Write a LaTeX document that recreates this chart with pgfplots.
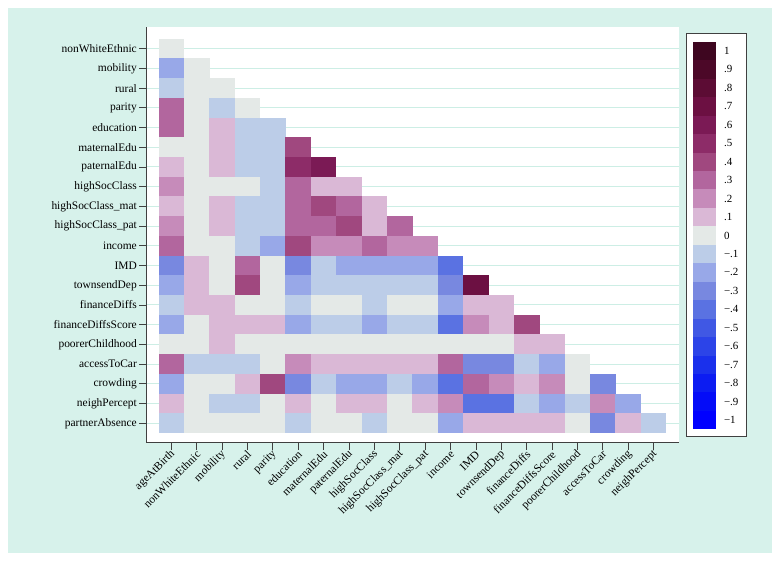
\documentclass[border=0pt]{standalone}
\usepackage{fontspec}
\setmainfont{Liberation Serif}
\usepackage{pgfplots}
\usepackage{pgfplotstable}
\pgfplotsset{compat=1.18}
\definecolor{bgteal}{HTML}{D7F2EB}
\definecolor{gridcol}{HTML}{CDEEE5}
\definecolor{axiscol}{HTML}{404040}
\pgfdeclareplotmark{cell}{\pgfpathrectangle{\pgfpoint{-12.8bp}{-9.95bp}}{\pgfpoint{25.6bp}{19.9bp}}\pgfusepathqfill}
\pgfdeclareplotmark{cbcell}{\pgfpathrectangle{\pgfpoint{-11.5bp}{-9.35bp}}{\pgfpoint{23bp}{18.7bp}}\pgfusepathqfill}
\pgfplotsset{colormap={corr}{
 rgb255=(0,0,255) rgb255=(4,12,248) rgb255=(12,28,242) rgb255=(26,48,236) rgb255=(44,68,232)
 rgb255=(64,88,228) rgb255=(90,114,226) rgb255=(120,136,224) rgb255=(152,168,232) rgb255=(188,205,232)
 rgb255=(228,233,231)
 rgb255=(218,184,214) rgb255=(198,139,186) rgb255=(178,102,158) rgb255=(160,72,127) rgb255=(141,44,104)
 rgb255=(123,26,85) rgb255=(108,16,66) rgb255=(92,12,52) rgb255=(76,8,40) rgb255=(62,6,32)}}
% col = column index (ageAtBirth=0), row = row index from top (nonWhiteEthnic=0), r = correlation
\pgfplotstableread{
col row r
0 0 0
0 1 -0.2
1 1 0
0 2 -0.1
1 2 0
2 2 0
0 3 0.3
1 3 0
2 3 -0.1
3 3 0
0 4 0.3
1 4 0
2 4 0.1
3 4 -0.1
4 4 -0.1
0 5 0
1 5 0
2 5 0.1
3 5 -0.1
4 5 -0.1
5 5 0.4
0 6 0.1
1 6 0
2 6 0.1
3 6 -0.1
4 6 -0.1
5 6 0.5
6 6 0.6
0 7 0.2
1 7 0
2 7 0
3 7 0
4 7 -0.1
5 7 0.3
6 7 0.1
7 7 0.1
0 8 0.1
1 8 0
2 8 0.1
3 8 -0.1
4 8 -0.1
5 8 0.3
6 8 0.4
7 8 0.3
8 8 0.1
0 9 0.2
1 9 0
2 9 0.1
3 9 -0.1
4 9 -0.1
5 9 0.3
6 9 0.3
7 9 0.4
8 9 0.1
9 9 0.3
0 10 0.3
1 10 0
2 10 0
3 10 -0.1
4 10 -0.2
5 10 0.4
6 10 0.2
7 10 0.2
8 10 0.3
9 10 0.2
10 10 0.2
0 11 -0.3
1 11 0.1
2 11 0
3 11 0.3
4 11 0
5 11 -0.3
6 11 -0.1
7 11 -0.2
8 11 -0.2
9 11 -0.2
10 11 -0.2
11 11 -0.4
0 12 -0.2
1 12 0.1
2 12 0
3 12 0.4
4 12 0
5 12 -0.2
6 12 -0.1
7 12 -0.1
8 12 -0.1
9 12 -0.1
10 12 -0.1
11 12 -0.3
12 12 0.7
0 13 -0.1
1 13 0.1
2 13 0.1
3 13 0
4 13 0
5 13 -0.1
6 13 0
7 13 0
8 13 -0.1
9 13 0
10 13 0
11 13 -0.2
12 13 0.1
13 13 0.1
0 14 -0.2
1 14 0
2 14 0.1
3 14 0.1
4 14 0.1
5 14 -0.2
6 14 -0.1
7 14 -0.1
8 14 -0.2
9 14 -0.1
10 14 -0.1
11 14 -0.4
12 14 0.2
13 14 0.1
14 14 0.4
0 15 0
1 15 0
2 15 0.1
3 15 0
4 15 0
5 15 0
6 15 0
7 15 0
8 15 0
9 15 0
10 15 0
11 15 0
12 15 0
13 15 0
14 15 0.1
15 15 0.1
0 16 0.3
1 16 -0.1
2 16 -0.1
3 16 -0.1
4 16 0
5 16 0.2
6 16 0.1
7 16 0.1
8 16 0.1
9 16 0.1
10 16 0.1
11 16 0.3
12 16 -0.3
13 16 -0.3
14 16 -0.1
15 16 -0.2
16 16 0
0 17 -0.2
1 17 0
2 17 0
3 17 0.1
4 17 0.4
5 17 -0.3
6 17 -0.1
7 17 -0.2
8 17 -0.2
9 17 -0.1
10 17 -0.2
11 17 -0.4
12 17 0.3
13 17 0.2
14 17 0.1
15 17 0.2
16 17 0
17 17 -0.3
0 18 0.1
1 18 0
2 18 -0.1
3 18 -0.1
4 18 0
5 18 0.1
6 18 0
7 18 0.1
8 18 0.1
9 18 0
10 18 0.1
11 18 0.2
12 18 -0.4
13 18 -0.4
14 18 -0.1
15 18 -0.2
16 18 -0.1
17 18 0.2
18 18 -0.2
0 19 -0.1
1 19 0
2 19 0
3 19 0
4 19 0
5 19 -0.1
6 19 0
7 19 0
8 19 -0.1
9 19 0
10 19 0
11 19 -0.2
12 19 0.1
13 19 0.1
14 19 0.1
15 19 0.1
16 19 0
17 19 -0.3
18 19 0.1
19 19 -0.1
}\corrdata
\pgfplotstableread{
k r
-10 -1
-9 -0.9
-8 -0.8
-7 -0.7
-6 -0.6
-5 -0.5
-4 -0.4
-3 -0.3
-2 -0.2
-1 -0.1
0 0
1 0.1
2 0.2
3 0.3
4 0.4
5 0.5
6 0.6
7 0.7
8 0.8
9 0.9
10 1
}\cbdata
\begin{document}
\begin{tikzpicture}[x=1bp,y=1bp]
\useasboundingbox (0,0) rectangle (780,562);
\fill[white] (0,0) rectangle (780,562);
\fill[bgteal] (8,8.7) rectangle (772,554);
\fill[white] (146,119) rectangle (679,535);
\filldraw[fill=white, draw=axiscol, line width=0.8bp] (686,126) rectangle (746,529);
\begin{axis}[
  at={(146bp,119bp)}, anchor=south west,
  scale only axis, width=533bp, height=416bp,
  xmin=-1, xmax=20, ymin=-1, ymax=20.1,
  axis x line*=bottom, axis y line*=left,
  axis line style={draw=axiscol, line width=1bp},
  xtick={0,...,19}, ytick={0,...,19},
  xticklabels={ageAtBirth,nonWhiteEthnic,mobility,rural,parity,education,maternalEdu,paternalEdu,highSocClass,highSocClass\_mat,highSocClass\_pat,income,IMD,townsendDep,financeDiffs,financeDiffsScore,poorerChildhood,accessToCar,crowding,neighPercept},
  yticklabels={partnerAbsence,neighPercept,crowding,accessToCar,poorerChildhood,financeDiffsScore,financeDiffs,townsendDep,IMD,income,highSocClass\_pat,highSocClass\_mat,highSocClass,paternalEdu,maternalEdu,education,parity,rural,mobility,nonWhiteEthnic},
  tick align=outside, major tick length=7bp,
  tick style={draw=axiscol, line width=0.9bp},
  ymajorgrids, grid style={draw=gridcol, line width=1bp},
  tick label style={font=\fontsize{11.5}{13}\selectfont, text=black},
  xticklabel style={rotate=45, anchor=east, inner sep=1.5pt, yshift=-3bp, xshift=1bp},
  yticklabel style={inner sep=2pt},
  colormap name=corr, point meta min=-1, point meta max=1,
  clip=false,
]
\addplot[scatter, only marks, mark=cell, point meta=\thisrow{r},
  scatter/use mapped color={draw=none, fill=mapped color}]
  table[x=col, y expr=19-\thisrow{row}] {\corrdata};
\end{axis}
\begin{axis}[
  at={(693.3bp,132.7bp)}, anchor=south west,
  scale only axis, width=23bp, height=387.6bp,
  xmin=-0.5, xmax=0.5, ymin=-10.5, ymax=10.5,
  axis line style={draw=none},
  xtick=\empty,
  ytick={-10,...,10},
  yticklabels={−1,−.9,−.8,−.7,−.6,−.5,−.4,−.3,−.2,−.1,0,.1,.2,.3,.4,.5,.6,.7,.8,.9,1},
  yticklabel pos=right,
  ytick style={draw=none},
  yticklabel style={anchor=west, inner sep=0pt, xshift=7.5bp, font=\fontsize{11}{12}\selectfont},
  colormap name=corr, point meta min=-1, point meta max=1,
  clip=false,
]
\addplot[scatter, only marks, mark=cbcell, point meta=\thisrow{r},
  scatter/use mapped color={draw=none, fill=mapped color}]
  table[x expr=0, y=k] {\cbdata};
\end{axis}
\end{tikzpicture}
\end{document}
